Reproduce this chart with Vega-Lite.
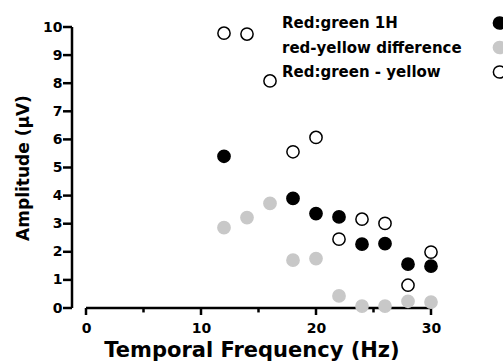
{
  "$schema": "https://vega.github.io/schema/vega-lite/v6.json",
  "autosize": "none",
  "width": 359,
  "height": 281,
  "padding": {"left": 72, "top": 27, "right": 72, "bottom": 56},
  "background": "white",
  "config": {
    "view": {"stroke": null},
    "font": "DejaVu Sans"
  },
  "datasets": {
    "pts": [
      {"f": 12, "a": 5.4, "s": "Red:green 1H"},
      {"f": 18, "a": 3.9, "s": "Red:green 1H"},
      {"f": 20, "a": 3.36, "s": "Red:green 1H"},
      {"f": 22, "a": 3.24, "s": "Red:green 1H"},
      {"f": 24, "a": 2.27, "s": "Red:green 1H"},
      {"f": 26, "a": 2.29, "s": "Red:green 1H"},
      {"f": 28, "a": 1.56, "s": "Red:green 1H"},
      {"f": 30, "a": 1.49, "s": "Red:green 1H"},
      {"f": 12, "a": 2.86, "s": "red-yellow difference"},
      {"f": 14, "a": 3.22, "s": "red-yellow difference"},
      {"f": 16, "a": 3.72, "s": "red-yellow difference"},
      {"f": 18, "a": 1.7, "s": "red-yellow difference"},
      {"f": 20, "a": 1.76, "s": "red-yellow difference"},
      {"f": 22, "a": 0.43, "s": "red-yellow difference"},
      {"f": 24, "a": 0.07, "s": "red-yellow difference"},
      {"f": 26, "a": 0.07, "s": "red-yellow difference"},
      {"f": 28, "a": 0.24, "s": "red-yellow difference"},
      {"f": 30, "a": 0.21, "s": "red-yellow difference"},
      {"f": 12, "a": 9.78, "s": "Red:green - yellow"},
      {"f": 14, "a": 9.75, "s": "Red:green - yellow"},
      {"f": 16, "a": 8.08, "s": "Red:green - yellow"},
      {"f": 18, "a": 5.56, "s": "Red:green - yellow"},
      {"f": 20, "a": 6.07, "s": "Red:green - yellow"},
      {"f": 22, "a": 2.45, "s": "Red:green - yellow"},
      {"f": 24, "a": 3.16, "s": "Red:green - yellow"},
      {"f": 26, "a": 3.01, "s": "Red:green - yellow"},
      {"f": 28, "a": 0.81, "s": "Red:green - yellow"},
      {"f": 30, "a": 1.99, "s": "Red:green - yellow"}
    ],
    "xline": [{"f": 0, "a": 0}, {"f": 30, "a": 0}],
    "yline": [{"a": 0}, {"a": 10}],
    "xmajor": [{"f": 0, "a": 0}, {"f": 10, "a": 0}, {"f": 20, "a": 0}, {"f": 30, "a": 0}],
    "xminor": [{"f": 5, "a": 0}, {"f": 15, "a": 0}, {"f": 25, "a": 0}],
    "yticks": [{"a": 0}, {"a": 1}, {"a": 2}, {"a": 3}, {"a": 4}, {"a": 5}, {"a": 6}, {"a": 7}, {"a": 8}, {"a": 9}, {"a": 10}]
  },
  "encoding": {
    "x": {
      "field": "f",
      "type": "quantitative",
      "scale": {"domain": [0, 30], "range": [14, 359], "nice": false, "zero": false},
      "axis": {
        "grid": false,
        "domain": false,
        "tickOpacity": 0,
        "labelFont": "DejaVu Sans",
        "labelFontWeight": "bold",
        "labelFontSize": 14,
        "labelColor": "black",
        "titleFont": "DejaVu Sans",
        "titleFontWeight": "bold",
        "titleColor": "black",
        "title": "Temporal Frequency (Hz)",
        "titleFontSize": 21,
        "titlePadding": 4,
        "titleX": 179.5,
        "values": [0, 10, 20, 30],
        "tickSize": 7,
        "labelPadding": 6,
        "labelFlush": false
      }
    },
    "y": {
      "field": "a",
      "type": "quantitative",
      "scale": {"domain": [0, 10], "nice": false},
      "axis": {
        "grid": false,
        "domain": false,
        "tickOpacity": 0,
        "labelFont": "DejaVu Sans",
        "labelFontWeight": "bold",
        "labelFontSize": 14,
        "labelColor": "black",
        "titleFont": "DejaVu Sans",
        "titleFontWeight": "bold",
        "titleColor": "black",
        "title": "Amplitude (μV)",
        "titleFontSize": 17,
        "titlePadding": 10,
        "values": [0, 1, 2, 3, 4, 5, 6, 7, 8, 9, 10],
        "tickSize": 9,
        "labelPadding": 1
      }
    }
  },
  "layer": [
    {
      "data": {"name": "xline"},
      "mark": {"type": "line", "color": "black", "strokeWidth": 2.5, "clip": false},
      "encoding": {}
    },
    {
      "data": {"name": "yline"},
      "mark": {"type": "line", "color": "black", "strokeWidth": 2.5, "clip": false},
      "encoding": {
        "x": {"value": 0}
      }
    },
    {
      "data": {"name": "xmajor"},
      "mark": {"type": "tick", "orient": "vertical", "color": "black", "thickness": 2.5, "size": 7, "yOffset": 3.5, "opacity": 1, "clip": false},
      "encoding": {}
    },
    {
      "data": {"name": "xminor"},
      "mark": {"type": "tick", "orient": "vertical", "color": "black", "thickness": 2.5, "size": 4.5, "yOffset": 2.2, "opacity": 1, "clip": false},
      "encoding": {}
    },
    {
      "data": {"name": "yticks"},
      "mark": {"type": "tick", "orient": "horizontal", "color": "black", "thickness": 2.5, "size": 9, "xOffset": -4.5, "opacity": 1, "clip": false},
      "encoding": {
        "x": {"value": 0}
      }
    },
    {
      "data": {"name": "pts"},
      "mark": {"type": "point", "shape": "circle", "size": 150, "strokeWidth": 1.5, "opacity": 1, "clip": false},
      "encoding": {
        "fill": {
          "field": "s",
          "type": "nominal",
          "scale": {
            "domain": ["Red:green 1H", "red-yellow difference", "Red:green - yellow"],
            "range": ["black", "#c8c8c8", "white"]
          },
          "legend": {
            "title": null,
            "orient": "none",
            "legendX": 420,
            "legendY": -11.5,
            "padding": 0,
            "labelOffset": -225,
            "labelFont": "DejaVu Sans",
            "labelFontWeight": "bold",
            "labelFontSize": 15,
            "labelColor": "black",
            "labelLimit": 400,
            "symbolSize": 150,
            "symbolStrokeWidth": 1.5,
            "rowPadding": 5.5
          }
        },
        "stroke": {
          "field": "s",
          "type": "nominal",
          "scale": {
            "domain": ["Red:green 1H", "red-yellow difference", "Red:green - yellow"],
            "range": ["black", "#c8c8c8", "black"]
          },
          "legend": {
            "title": null,
            "orient": "none",
            "legendX": 420,
            "legendY": -11.5,
            "padding": 0,
            "labelOffset": -225,
            "labelFont": "DejaVu Sans",
            "labelFontWeight": "bold",
            "labelFontSize": 15,
            "labelColor": "black",
            "labelLimit": 400,
            "symbolSize": 150,
            "symbolStrokeWidth": 1.5,
            "rowPadding": 5.5
          }
        }
      }
    }
  ]
}
